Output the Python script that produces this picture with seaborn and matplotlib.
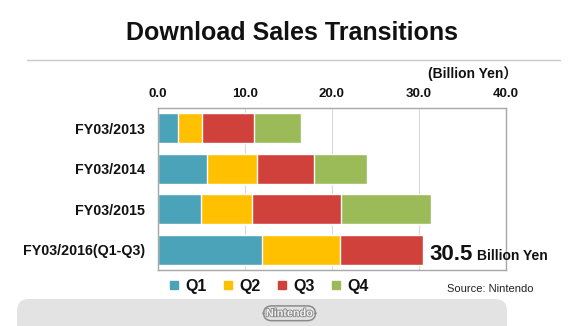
import numpy as np
import pandas as pd
import matplotlib
matplotlib.use("Agg")
import matplotlib.pyplot as plt
import matplotlib.patheffects as pe
import seaborn as sns
from matplotlib.patches import FancyBboxPatch
from matplotlib.lines import Line2D
from matplotlib.transforms import IdentityTransform

# ---- data ----
categories = ["FY03/2013", "FY03/2014", "FY03/2015", "FY03/2016(Q1-Q3)"]
quarters = ["Q1", "Q2", "Q3", "Q4"]
q1 = [2.3, 5.7, 5.0, 12.0]
q2 = [2.8, 5.7, 5.8, 9.0]
q3 = [6.0, 6.6, 10.3, 9.5]
q4 = [5.4, 6.1, 10.3, np.nan]
colors = ["#4aa3b8", "#ffc000", "#d1413c", "#9bbb59"]
tick_values = [0, 10, 20, 30, 40]
tick_labels = ["0.0", "10.0", "20.0", "30.0", "40.0"]
total_label = "30.5"

sns.set_theme(style="white")
plt.rcParams["font.family"] = ["Liberation Sans", "Noto Sans CJK JP", "DejaVu Sans"]

W, H = 580, 326
fig = plt.figure(figsize=(W / 100, H / 100), dpi=100)
fig.patch.set_facecolor("white")

def fx(px):
    return px / W

def fy(py):
    return 1 - py / H

ax = fig.add_axes([fx(157.5), fy(270), fx(506) - fx(157.5), (270 - 108) / H])

df = pd.DataFrame({"cat": categories, "Q1": q1, "Q2": q2, "Q3": q3, "Q4": q4})
series = [df["Q1"], df["Q2"], df["Q3"], df["Q4"]]
cum = []
running = np.zeros(len(categories))
for s in series:
    running = running + np.nan_to_num(s.values)
    cum.append(np.where(np.isnan(s.values), np.nan, running))

# draw from longest (back) to shortest (front)
for i in range(3, -1, -1):
    d = pd.DataFrame({"cat": categories, "val": cum[i]})
    sns.barplot(data=d, x="val", y="cat", orient="h", color=colors[i],
                saturation=1, width=0.75, ax=ax, order=categories)

ax.set_xlim(0, 40)
ax.set_xticks(tick_values)
ax.set_xticklabels(tick_labels)
ax.xaxis.tick_top()
ax.tick_params(axis="x", length=0, pad=6, labelsize=9.5, labelcolor="#111111")
ax.tick_params(axis="y", length=0, pad=9, labelsize=10.3, labelcolor="#111111")
for lab in ax.get_xticklabels() + ax.get_yticklabels():
    lab.set_fontweight("bold")
ax.set_xlabel("")
ax.set_ylabel("")
ax.grid(axis="x", color="#d9d9d9", linewidth=0.8)
ax.set_axisbelow(True)
for sp in ax.spines.values():
    sp.set_color("#a8a8a8")
    sp.set_linewidth(1.0)

# total annotation for the last bar
last_total = cum[2][3]
ax.annotate(total_label, xy=(last_total, 3), xytext=(4.5, -7.5),
            textcoords="offset points", ha="left", va="baseline",
            fontsize=16, fontweight="bold", color="#111111")
ax.annotate("Billion Yen", xy=(last_total, 3), xytext=(38.5, -7.5),
            textcoords="offset points", ha="left", va="baseline",
            fontsize=10, fontweight="bold", color="#111111")

# title and rule
fig.text(fx(291.5), fy(32.5), "Download Sales Transitions", ha="center", va="center",
         fontsize=18, fontweight="bold", color="#111111")
fig.add_artist(Line2D([fx(26.7), fx(560)], [fy(59.5), fy(59.5)], transform=fig.transFigure,
                      color="#c8c8c8", linewidth=1.0))

fig.text(fx(428), fy(74), "(Billion Yen）", ha="left", va="center",
         fontsize=10, fontweight="bold", color="#111111")

# legend
handles = [Line2D([0], [0], marker="s", linestyle="none", markersize=6,
                  markerfacecolor=c, markeredgecolor=c) for c in colors]
leg = fig.legend(handles, quarters, loc="center", bbox_to_anchor=(fx(269), fy(286)),
                 ncol=4, frameon=False, handlelength=0.6, handletextpad=0.4,
                 columnspacing=1.05, prop={"weight": "bold", "size": 11.5})
for t in leg.get_texts():
    t.set_color("#111111")

fig.text(fx(447), fy(289), "Source: Nintendo", ha="left", va="center",
         fontsize=8, color="#222222")

# footer band
footer = FancyBboxPatch((17, -20), 490, (326 - 299) + 20,
                        boxstyle="round,pad=0,rounding_size=12",
                        transform=IdentityTransform(), facecolor="#e3e3e3",
                        edgecolor="none")
fig.add_artist(footer)
fig.text(fx(289.5), fy(313.3), "Nintendo", ha="center", va="center", fontsize=7.8,
         fontweight="bold", color="#f2f2f2",
         bbox=dict(boxstyle="round,pad=0.22,rounding_size=0.75", facecolor="none",
                   edgecolor="#8a8a8a", linewidth=1.1),
         path_effects=[pe.withStroke(linewidth=1.3, foreground="#8a8a8a")])

fig.savefig("out.png", dpi=100, facecolor="white")
